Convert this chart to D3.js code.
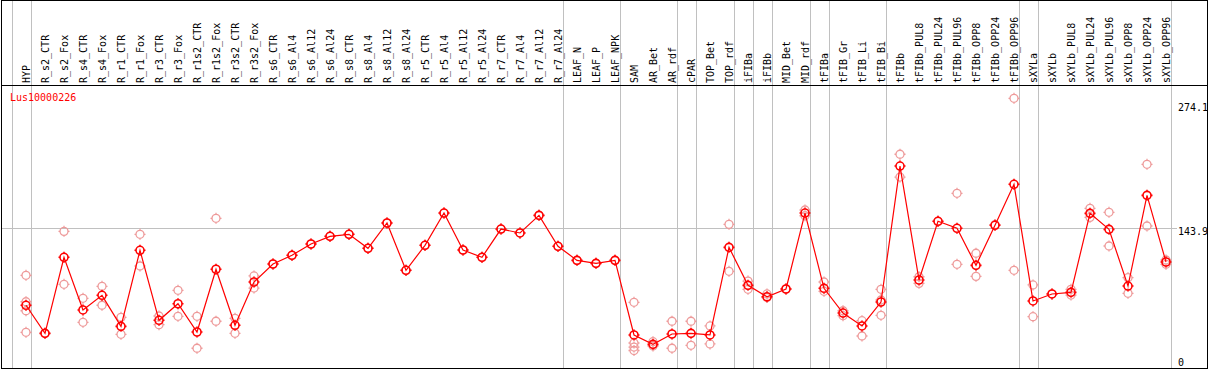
<!DOCTYPE html>
<html>
<head>
<meta charset="utf-8">
<script src="https://cdn.jsdelivr.net/npm/d3@7"></script>
<style>
html,body{margin:0;padding:0;background:#fff;}
svg{display:block;}
text{font-family:"DejaVu Sans Mono","Liberation Mono",monospace;font-size:10px;}
</style>
</head>
<body>
<svg id="chart" width="1209" height="370"></svg>
<script>
const geneName = "Lus10000226";
const categories = ["HYP","R_s2_CTR","R_s2_Fox","R_s4_CTR","R_s4_Fox","R_r1_CTR","R_r1_Fox","R_r3_CTR","R_r3_Fox","R_r1s2_CTR","R_r1s2_Fox","R_r3s2_CTR","R_r3s2_Fox","R_s6_CTR","R_s6_Al4","R_s6_Al12","R_s6_Al24","R_s8_CTR","R_s8_Al4","R_s8_Al12","R_s8_Al24","R_r5_CTR","R_r5_Al4","R_r5_Al12","R_r5_Al24","R_r7_CTR","R_r7_Al4","R_r7_Al12","R_r7_Al24","LEAF_N","LEAF_P","LEAF_NPK","SAM","AR_Bet","AR_rdf","cPAR","TOP_Bet","TOP_rdf","iFIBa","iFIBb","MID_Bet","MID_rdf","tFIBa","tFIB_Gr","tFIB_Li","tFIB_Bi","tFIBb","tFIBb_PUL8","tFIBb_PUL24","tFIBb_PUL96","tFIBb_OPP8","tFIBb_OPP24","tFIBb_OPP96","sXYLa","sXYLb","sXYLb_PUL8","sXYLb_PUL24","sXYLb_PUL96","sXYLb_OPP8","sXYLb_OPP24","sXYLb_OPP96"];
const groupStarts = ["HYP","R_s2_CTR","LEAF_N","SAM","cPAR","TOP_Bet","iFIBa","iFIBb","MID_Bet","tFIBa","tFIB_Gr","tFIBb","sXYLa","sXYLb"];
const means = [63.2,33.9,113.3,58.3,73.6,41.2,120.6,47.5,64.8,35.3,100.8,42.3,87.5,106.3,115.4,127.2,135.2,137.3,122.7,149.1,99.7,125.8,159.5,120.9,113.3,142.8,138.7,157.1,124.8,110.1,107.0,110.1,32.2,22.4,33.2,33.9,32.2,123.7,84.0,72.1,80.2,159.5,80.9,55.1,41.6,66.6,208.6,89.6,150.9,143.6,104.9,146.7,189.5,67.7,75.0,76.7,159.2,142.5,83.3,178.0,108.4];
const replicates = [
  [94.5,66.9,57.5,35.0],[33.9],[140.4,85.1],[70.5,45.4],[83.0,63.2],[50.6,32.9],[137.3,104.2],[52.0,42.9],[78.8,51.7],[51.7,18.3],[154.0,46.5],[49.6,33.9],[93.8,81.2],
  [106.3],[115.4],[127.2],[135.2],[137.3],[122.7],[149.1],[99.7],[125.8],[159.5],[120.9],[113.3],[142.8],[138.7],[157.1],[124.8],
  [110.1],[107.0],[110.1],
  [66.3,23.8,19.6,16.0],[25.2,20.7],[46.5,18.3],[46.5,21.4],[41.6,22.8],[147.7,98.7],[88.5,79.9],[75.0,71.3],[80.2],[162.7,156.7],[87.5,77.8],[57.5,52.3],[47.1,31.1],[79.9,68.7,52.7],
  [220.9,197.1],[93.0,86.1],[150.9],[180.1,106.0],[117.5,93.4],[147.5],[279.3,99.7],
  [84.4,51.3],[75.0],[79.9,73.9],[164.4,155.0],[160.3,125.1],[92.0,75.7],[210.4,146.0],[110.5,106.0]
];
const yTicks = [274.1, 143.9, 0];
const gridValues = [143.9];

const svg = d3.select("#chart");
const W = 1209, H = 370;
const x = d3.scalePoint().domain(categories).range([26, 1166]).padding(0);
const step = x.step();
const y = d3.scaleLinear().domain([0, 274.1]).range([365.8, 103.3]);

const grey = "#c0c0c0";
// vertical group separators
const seps = groupStarts.map(c => x(c) - 0.75 * step);
seps.push(x(categories[categories.length - 1]) + 0.25 * step);
svg.append("g").selectAll("line").data(seps).join("line")
  .attr("x1", d => Math.round(d) + 0.5).attr("x2", d => Math.round(d) + 0.5)
  .attr("y1", 0).attr("y2", 369)
  .attr("stroke", grey).attr("stroke-width", 1);

// horizontal gridline
svg.append("g").selectAll("line").data(gridValues).join("line")
  .attr("x1", 1).attr("x2", 1177)
  .attr("y1", d => Math.round(y(d)) + 0.5).attr("y2", d => Math.round(y(d)) + 0.5)
  .attr("stroke", grey).attr("stroke-width", 1);

// frame
svg.append("rect").attr("x", 1.5).attr("y", 0.5).attr("width", 1206).attr("height", 368)
  .attr("fill", "none").attr("stroke", "#000").attr("stroke-width", 1);
svg.append("line").attr("x1", 1).attr("x2", 1208).attr("y1", 85.5).attr("y2", 85.5)
  .attr("stroke", "#000").attr("stroke-width", 1);

// category labels
svg.append("g").selectAll("text").data(categories).join("text")
  .attr("transform", d => `translate(${x(d) + 4},83) rotate(-90)`)
  .attr("text-anchor", "start")
  .attr("fill", "#000")
  .text(d => d);

// y tick labels
svg.append("g").selectAll("text").data(yTicks).join("text")
  .attr("x", 1178)
  .attr("y", d => Math.min(y(d), 358.5) + 7.5)
  .attr("fill", "#000")
  .text(d => d);

// title
svg.append("text").attr("x", 10).attr("y", 101).attr("fill", "#f00").text(geneName);

// marker path generator
function markerPath(r, t) {
  return `M${-r},0A${r},${r} 0 1,0 ${r},0A${r},${r} 0 1,0 ${-r},0` +
    `M0,${-r}V${-r - t}M0,${r}V${r + t}M${-r},0H${-r - t}M${r},0H${r + t}`;
}

// replicates
const repPts = [];
categories.forEach((c, i) => replicates[i].forEach(v => repPts.push({c, v})));
svg.append("g").selectAll("path").data(repPts).join("path")
  .attr("transform", d => `translate(${x(d.c)},${y(d.v)})`)
  .attr("d", markerPath(4, 1.5))
  .attr("fill", "none").attr("stroke", "#ee9a9a").attr("stroke-width", 1.3);

// mean line
const line = d3.line().x((d, i) => x(categories[i])).y(d => y(d));
svg.append("path").datum(means).attr("d", line)
  .attr("fill", "none").attr("stroke", "#f00").attr("stroke-width", 1.2);

// mean markers
svg.append("g").selectAll("path").data(means).join("path")
  .attr("transform", (d, i) => `translate(${x(categories[i])},${y(d)})`)
  .attr("d", markerPath(4, 1.5))
  .attr("fill", "none").attr("stroke", "#f00").attr("stroke-width", 1.6);
</script>
</body>
</html>
